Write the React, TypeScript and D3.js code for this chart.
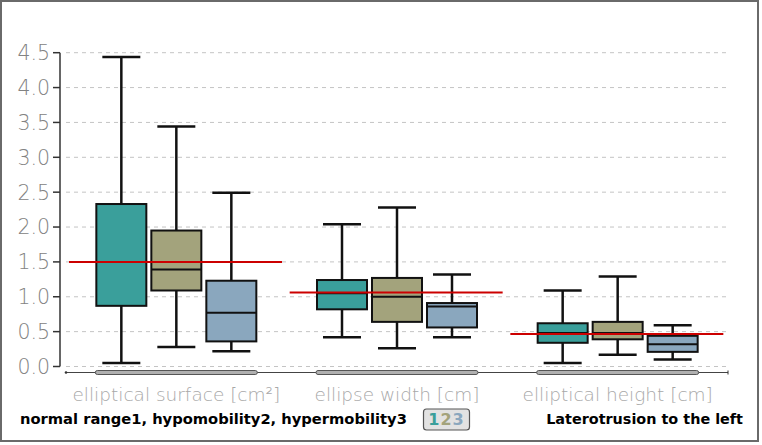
import React from "react";
import * as d3 from "d3";

const categories = ["elliptical surface [cm²]", "ellipse width [cm]", "elliptical height [cm]"];
const seriesNames = ["normal range", "hypomobility", "hypermobility"];
const seriesColors = ["#3a9f9b", "#a3a37c", "#8aa7be"];
// [min, q1, median, q3, max] per category, per series
const normalRange = [
  [0.05, 0.87, 1.5, 2.33, 4.44],
  [0.42, 0.82, 1.05, 1.24, 2.04],
  [0.05, 0.34, 0.48, 0.62, 1.09],
];
const hypomobility = [
  [0.28, 1.09, 1.39, 1.95, 3.44],
  [0.26, 0.64, 1.0, 1.27, 2.28],
  [0.17, 0.39, 0.48, 0.64, 1.29],
];
const hypermobility = [
  [0.22, 0.36, 0.77, 1.23, 2.49],
  [0.42, 0.56, 0.86, 0.91, 1.32],
  [0.1, 0.21, 0.32, 0.44, 0.59],
];
const referenceValues = [1.5, 1.06, 0.465];
const yTicks = [0, 0.5, 1, 1.5, 2, 2.5, 3, 3.5, 4, 4.5];

export default function App() {
  const W = 762, H = 445;
  const y = d3.scaleLinear().domain([0, 4.5]).range([366.5, 52.7]);
  const x = d3.scaleBand<string>().domain(categories).range([66, 728]).padding(0);
  const series = [normalRange, hypomobility, hypermobility];
  const offsets = [-55, 0, 55];
  const boxW = 50, capW = 38;
  const fmt = d3.format(".1f");
  const font = "'DejaVu Sans', Verdana, sans-serif";

  return (
    <svg width={W} height={H} style={{ position: "absolute", left: 0, top: 0 }}>
      <rect x={0} y={0} width={W} height={H} fill="#fff" />
      <rect x={1} y={1} width={757} height={440} fill="none" stroke="#6a6a6a" strokeWidth={2} />
      {yTicks.map((t) => (
        <g key={t}>
          <line x1={66} x2={727} y1={y(t)} y2={y(t)} stroke="#c4c4c4" strokeDasharray="4,4" strokeWidth={1} />
          <line x1={53} x2={60} y1={y(t)} y2={y(t)} stroke="#333" strokeWidth={1.5} />
          <text x={50} y={y(t)} dy="0.36em" textAnchor="end" fontFamily={font} fontSize={20.5} fill="#828282" fontWeight={300}>{fmt(t)}</text>
        </g>
      ))}
      <line x1={60} x2={60} y1={y(4.5)} y2={y(0)} stroke="#333" strokeWidth={1.5} />
      {/* x axis */}
      <line x1={66} x2={728} y1={372.5} y2={372.5} stroke="#444" strokeWidth={1} />
      <circle cx={66} cy={372.5} r={1.3} fill="#333" />
      <line x1={728} x2={728} y1={370.5} y2={374.5} stroke="#333" strokeWidth={1} />
      {categories.map((c) => (
        <g key={c}>
          <rect x={(x(c) as number) + x.bandwidth() / 2 - 81} y={370.5} width={162} height={4} rx={2} fill="#b0b0b0" stroke="#555" strokeWidth={1} />
          <text x={(x(c) as number) + x.bandwidth() / 2} y={401} textAnchor="middle" fontFamily={font} fontSize={18.5} fill="#a8a8a8" fontWeight={300}>{c}</text>
        </g>
      ))}
      {categories.map((c, ci) => {
        const cx = (x(c) as number) + x.bandwidth() / 2;
        return (
          <g key={"b" + c}>
            {series.map((s, si) => {
              const [mn, q1, md, q3, mx] = s[ci];
              const bx = cx + offsets[si];
              return (
                <g key={si}>
                  <line x1={bx} x2={bx} y1={y(mx)} y2={y(q3)} stroke="#111" strokeWidth={2.5} />
                  <line x1={bx} x2={bx} y1={y(q1)} y2={y(mn)} stroke="#111" strokeWidth={2.5} />
                  <line x1={bx - capW / 2} x2={bx + capW / 2} y1={y(mx)} y2={y(mx)} stroke="#111" strokeWidth={2.5} />
                  <line x1={bx - capW / 2} x2={bx + capW / 2} y1={y(mn)} y2={y(mn)} stroke="#111" strokeWidth={2.5} />
                  <rect x={bx - boxW / 2} y={y(q3)} width={boxW} height={y(q1) - y(q3)} fill={seriesColors[si]} stroke="#111" strokeWidth={2} />
                  <line x1={bx - boxW / 2} x2={bx + boxW / 2} y1={y(md)} y2={y(md)} stroke="#111" strokeWidth={2} />
                </g>
              );
            })}
            <line x1={(x(c) as number) + 3} x2={(x(c) as number) + 216} y1={y(referenceValues[ci])} y2={y(referenceValues[ci])} stroke="#cc0000" strokeWidth={2} />
          </g>
        );
      })}
      <text x={20} y={424} fontFamily={font} fontSize={14.7} fontWeight="bold" fill="#000">
        {seriesNames.map((n, i) => `${n}${i + 1}`).join(", ")}
      </text>
      <rect x={423.5} y={409} width={46} height={21} rx={3} fill="#e2e2e2" stroke="#555" strokeWidth={1.2} />
      <text x={446.5} y={425} textAnchor="middle" fontFamily={font} fontSize={16} fontWeight="bold" letterSpacing={1}>
        {seriesColors.map((col, i) => (
          <tspan key={i} fill={col}>{i + 1}</tspan>
        ))}
      </text>
      <text x={743} y={424} textAnchor="end" fontFamily={font} fontSize={14.4} fontWeight="bold" fill="#000">Laterotrusion to the left</text>
    </svg>
  );
}
